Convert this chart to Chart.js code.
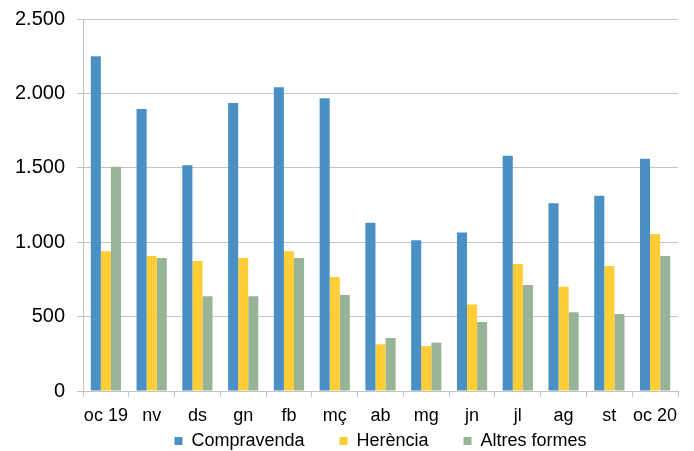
<!DOCTYPE html>
<html><head><meta charset="utf-8">
<script src="https://cdn.jsdelivr.net/npm/chart.js@4"></script>
<style>html,body{margin:0;padding:0;background:#fff}#w{width:694px;height:451px}</style>
</head><body><div id="w"><canvas id="c"></canvas></div>
<script>
const categories = ['oc 19','nv','ds','gn','fb','mç','ab','mg','jn','jl','ag','st','oc 20'];
const compravenda = [2250,1895,1517,1935,2042,1968,1131,1013,1066,1581,1261,1313,1561];
const herencia = [939,907,874,894,939,766,314,302,582,853,701,840,1055];
const altresFormes = [1507,894,636,636,894,645,356,325,464,712,529,517,907];
const seriesNames = ['Compravenda','Herència','Altres formes'];
const yTicks = [0,500,1000,1500,2000,2500];

const fmt = v => String(v).replace(/\B(?=(\d{3})+(?!\d))/g, '.');
const FONT = 'Liberation Sans, Arial, sans-serif';
const gridCol = '#c4c4c4';
const LEG_PAD = 35;

const legendShift = {
  id: 'legendShift',
  afterLayout(chart) {
    const lg = chart.legend;
    if (!lg) return;
    const h = lg.height;
    lg.top = 441 - 9 - LEG_PAD;
    lg.bottom = lg.top + h;
  }
};

new Chart(document.getElementById('c'), {
  type: 'bar',
  data: {
    labels: categories,
    datasets: [
      {label: seriesNames[0], data: compravenda, backgroundColor: '#4a90c4'},
      {label: seriesNames[1], data: herencia, backgroundColor: '#ffcd35'},
      {label: seriesNames[2], data: altresFormes, backgroundColor: '#98b496'}
    ]
  },
  plugins: [legendShift],
  options: {
    responsive: true,
    maintainAspectRatio: false,
    animation: false,
    devicePixelRatio: 1,
    layout: {padding: {left: 0, right: 16, top: 19, bottom: -37}},
    datasets: {bar: {categoryPercentage: 0.66, barPercentage: 1.0}},
    plugins: {
      tooltip: {enabled: false},
      legend: {
        position: 'bottom',
        fullSize: false,
        labels: {boxWidth: 8, boxHeight: 8, padding: LEG_PAD, color: '#000',
          font: {family: FONT, size: 18}}
      }
    },
    scales: {
      x: {
        grid: {offset: true, drawOnChartArea: false, drawTicks: true, tickLength: 6, color: gridCol},
        border: {color: gridCol, width: 1},
        ticks: {color: '#000', padding: 8, maxRotation: 0, autoSkip: false, font: {family: FONT, size: 18}},
        afterFit: s => { s.height = 34; }
      },
      y: {
        min: 0, max: 2500,
        afterBuildTicks: s => { s.ticks = yTicks.map(v => ({value: v})); },
        grid: {color: gridCol, tickLength: 6, lineWidth: 1},
        border: {color: gridCol, width: 1},
        ticks: {color: '#000', padding: 12, callback: v => fmt(v), font: {family: FONT, size: 20, lineHeight: 0.7}},
        afterFit: s => { s.width = 83; }
      }
    }
  }
});
</script></body></html>
